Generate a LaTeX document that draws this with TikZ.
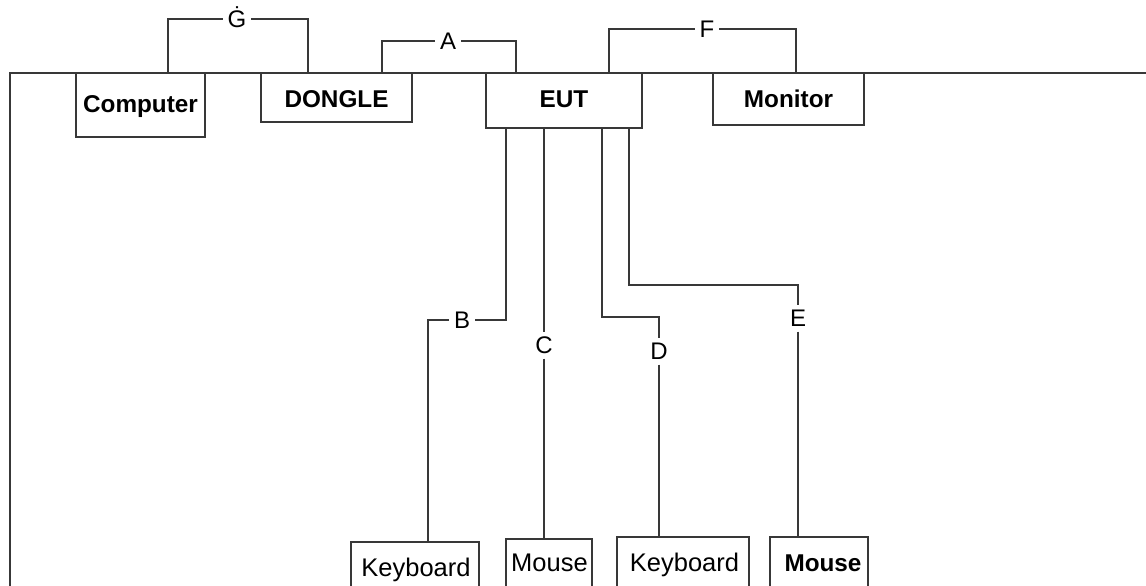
\documentclass[tikz,border=0pt]{standalone}
\usepackage{fontspec}
\setmainfont{Liberation Sans}
\begin{document}
\begin{tikzpicture}[x=1pt,y=-1pt,
  every node/.style={font=\fontsize{24}{28}\selectfont},
  ln/.style={draw=black!78,line width=1.4pt},
  box/.style={ln,fill=white,inner sep=0pt,outer sep=0pt},
  bt/.style={font=\fontsize{24.3}{28}\selectfont\bfseries,inner sep=0pt,text height=17pt,text depth=0pt},
  rt/.style={font=\fontsize{25.5}{28}\selectfont,inner sep=0pt,text height=17pt,text depth=0pt},
  lab/.style={fill=white,inner xsep=5pt,inner ysep=5pt,outer sep=0pt,text height=17pt,text depth=0pt},
  bus/.style={ln,line cap=rect}]
\useasboundingbox (0,0) rectangle (1146,586);
\clip (0,0) rectangle (1146,586);
\fill[white] (0,0) rectangle (1146,586);
% bus lines
\coordinate (tl) at (10,73);
\coordinate (tr) at (1150,73);
\coordinate (bl) at (10,590);
\draw[bus] (bl) -- (tl) -- (tr);
% top boxes
\node[box,minimum width=129pt,minimum height=64pt] (computer) at (140.5,105) {};
\node[bt] (computert) at (140.5,103.5) {Computer};
\node[box,minimum width=151pt,minimum height=49pt] (dongle) at (336.5,97.5) {};
\node[bt] (donglet) at (336.5,98.5) {DONGLE};
\node[box,minimum width=156pt,minimum height=55pt] (eut) at (564,100.5) {};
\node[bt] (eutt) at (564,98.5) {EUT};
\node[box,minimum width=151pt,minimum height=52pt] (monitor) at (788.5,99) {};
\node[bt] (monitort) at (788.5,99) {Monitor};
% bottom boxes (cut off by the lower edge)
\node[box,minimum width=128pt,minimum height=58pt] (kb1) at (415,571) {};
\node[rt] (kb1t) at (416,568) {Keyboard};
\node[box,minimum width=86pt,minimum height=61pt] (m1) at (549,569.5) {};
\node[rt] (m1t) at (549.5,562.5) {Mouse};
\node[box,minimum width=132pt,minimum height=63pt] (kb2) at (683,568.5) {};
\node[rt] (kb2t) at (684.5,562.5) {Keyboard};
\node[box,minimum width=98pt,minimum height=63pt] (m2) at (819,568.5) {};
\node[bt] (m2t) at (823,562.5) {Mouse};
% labels
\node[lab] (G) at (237,19) {\.{G}};
\node[lab] (A) at (448,41) {A};
\node[lab] (F) at (707,29) {F};
\node[lab] (B) at (462,320) {B};
\node[lab] (C) at (544,345) {C};
\node[lab] (D) at (659,351) {D};
\node[lab] (E) at (798,318) {E};
% top connectors
\draw[ln] (computer.north -| 168,0) |- (G);
\draw[ln] (G) -| (dongle.north -| 308,0);
\draw[ln] (dongle.north -| 382,0) |- (A);
\draw[ln] (A) -| (eut.north -| 516,0);
\draw[ln] (eut.north -| 609,0) |- (F);
\draw[ln] (F) -| (monitor.north -| 796,0);
% bottom connectors
\coordinate (d1) at (659,317);
\coordinate (e1) at (798,285);
\draw[ln] (eut.south -| 506,0) |- (B);
\draw[ln] (B) -| (kb1.north -| 428,0);
\draw[ln] (eut.south -| 544,0) -- (C);
\draw[ln] (C) -- (m1.north -| C);
\draw[ln] (eut.south -| 602,0) |- (d1) -- (D);
\draw[ln] (D) -- (kb2.north -| D);
\draw[ln] (eut.south -| 629,0) |- (e1) -- (E);
\draw[ln] (E) -- (m2.north -| E);
\end{tikzpicture}
\end{document}
